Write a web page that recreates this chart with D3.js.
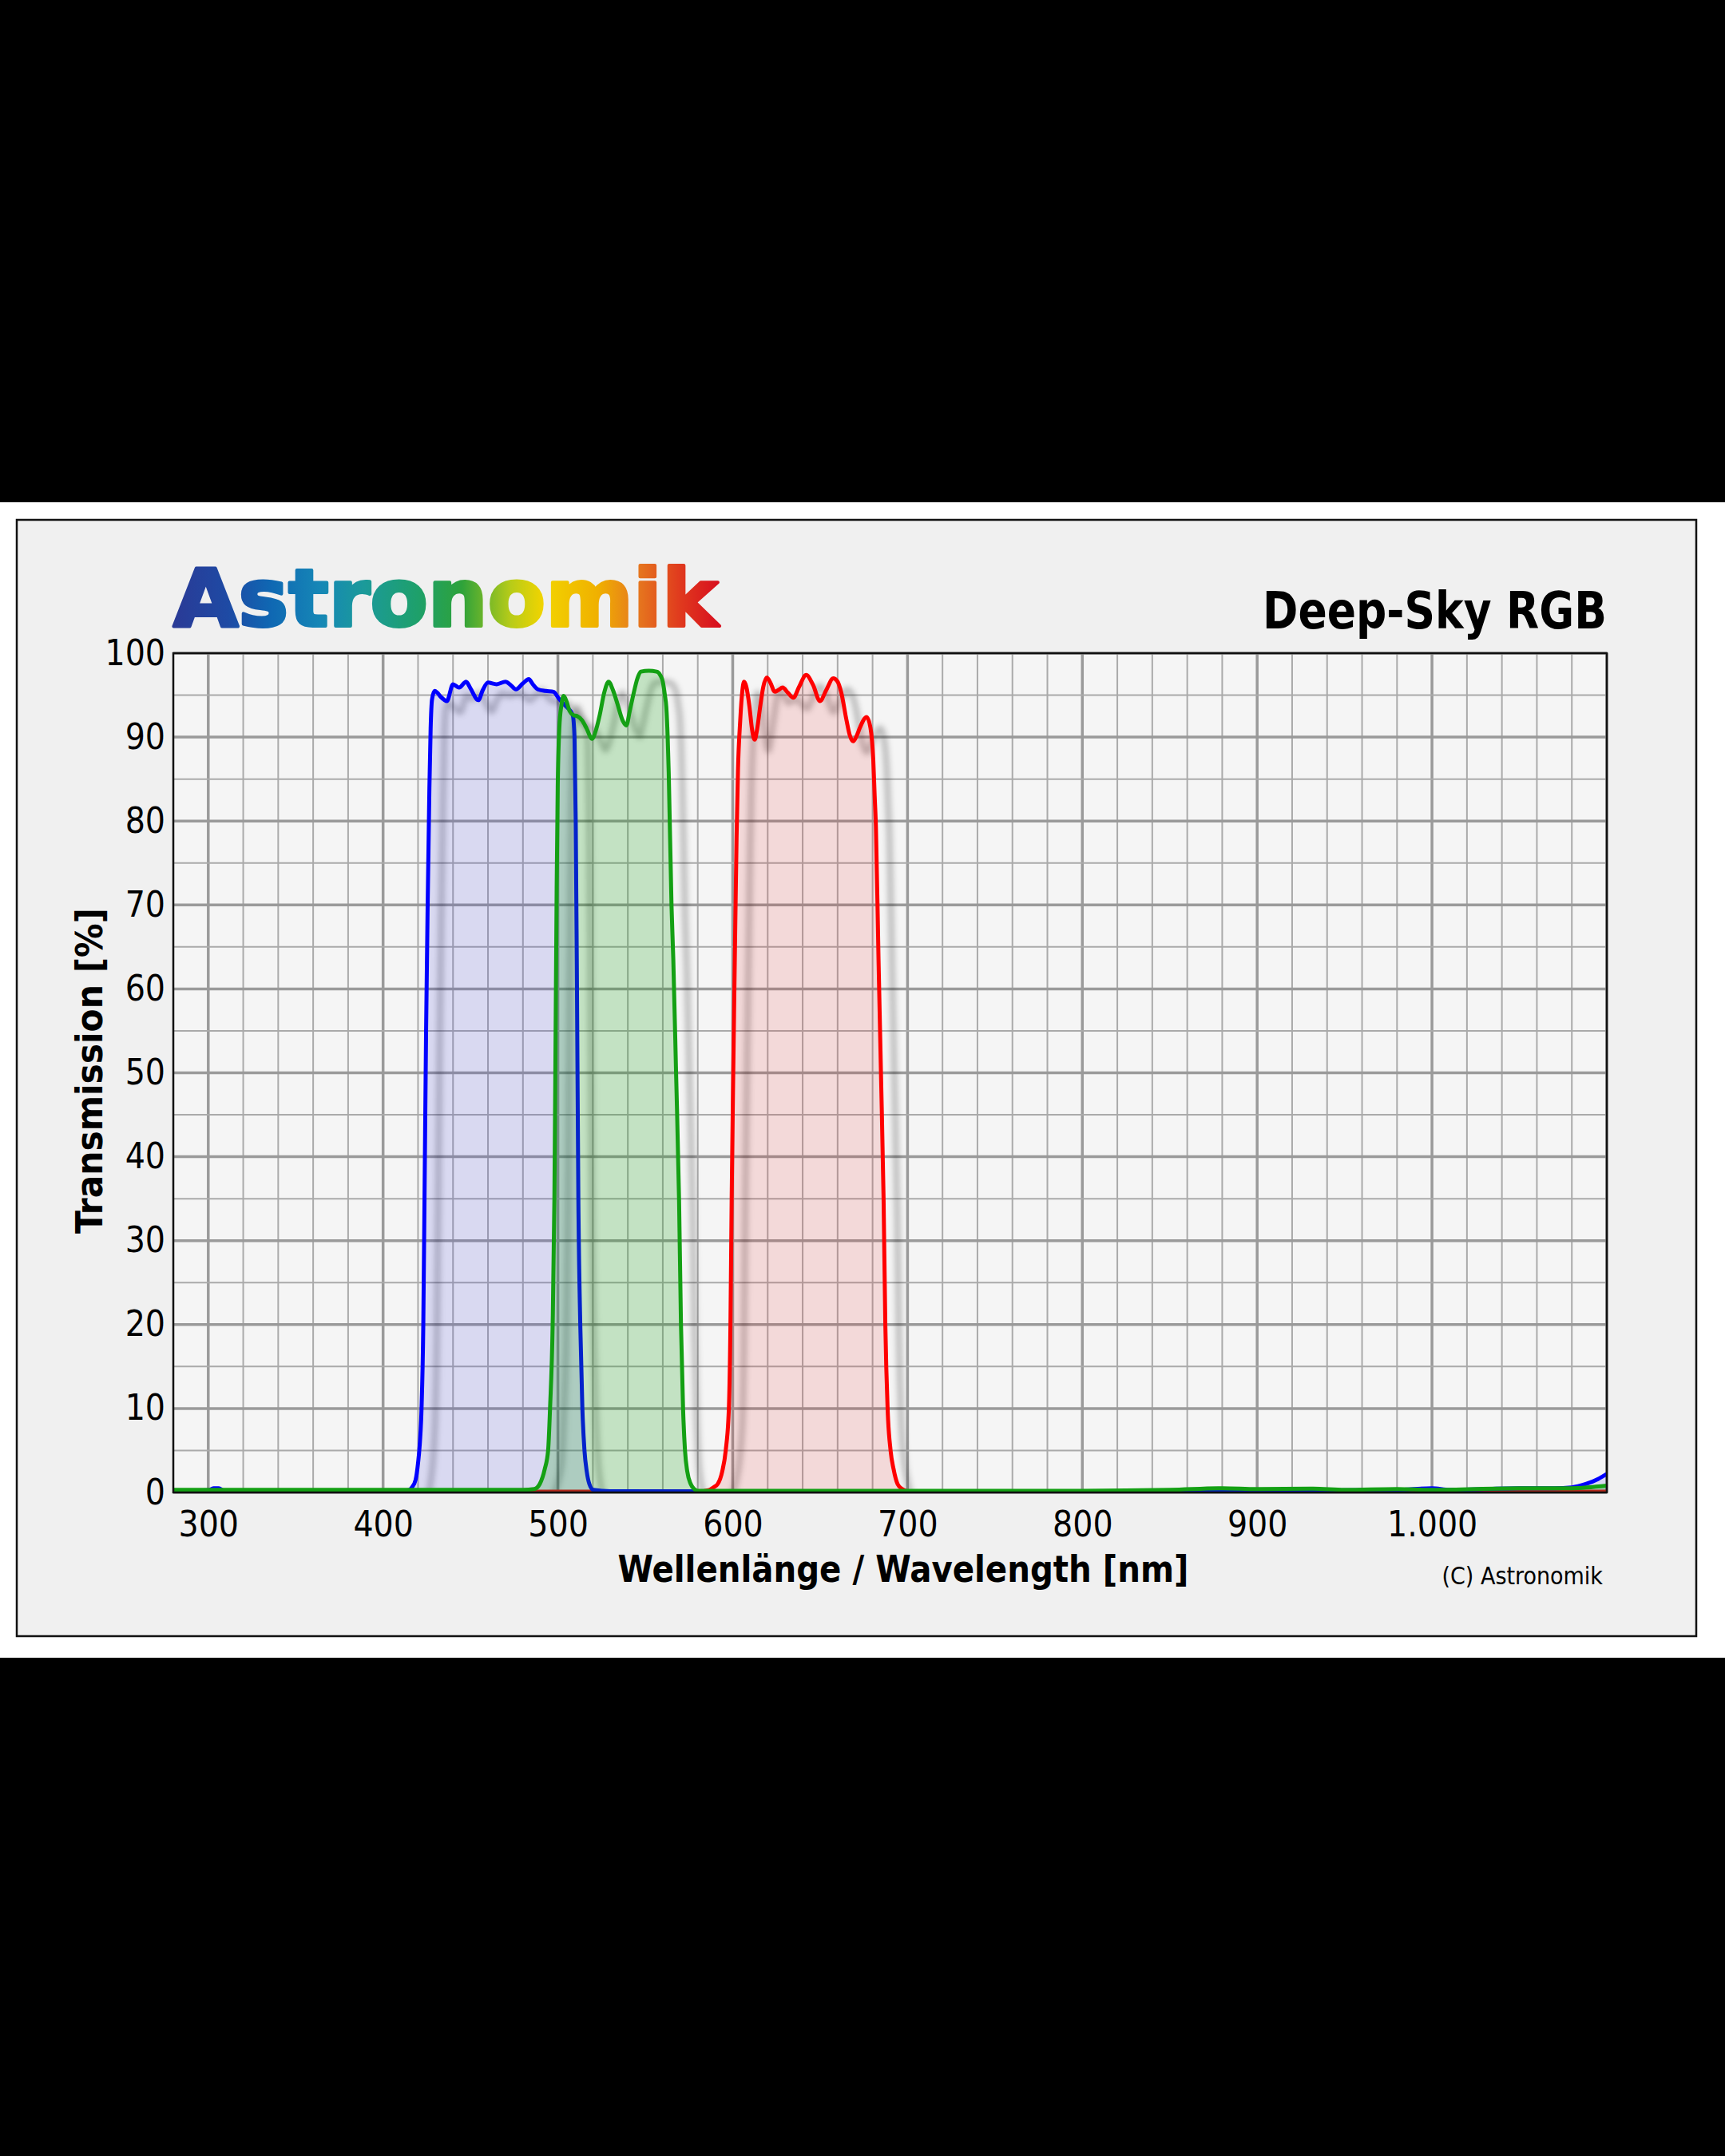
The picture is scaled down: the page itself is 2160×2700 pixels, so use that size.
<!DOCTYPE html>
<html>
<head>
<meta charset="utf-8">
<script src="https://cdn.jsdelivr.net/npm/d3@7"></script>
<style>
  body { margin: 0; background: #000; }
</style>
</head>
<body>
<svg id="chart" width="2160" height="2700"></svg>
<script>
// transmission curves, [wavelength nm, transmission %]
let blueData = [
  [280, 0.2], [300, 0.25], [303, 0.5], [306, 0.5], [309, 0.2], [350, 0.2], [400, 0.2], [412, 0.2],
  [415, 0.3], [416.5, 0.6], [418.6, 1.5], [420, 3.5], [420.9, 5.5], [422, 10], [423, 20], [423.7, 35],
  [424.6, 55], [425.5, 70], [426.5, 84], [427.2, 91], [428, 94.5], [429.5, 95.5], [431, 95.3], [433, 94.8],
  [436.5, 94.3], [440, 96.3], [443.5, 95.9], [447.5, 96.6], [450, 95.8], [454.5, 94.4], [457, 95.6],
  [460, 96.5], [465, 96.3], [470, 96.6], [473, 96.2], [476, 95.7], [480, 96.4], [483.3, 96.9],
  [486, 96.2], [488.5, 95.7], [493, 95.5], [497.5, 95.4], [500.5, 94.6], [503, 94], [505.5, 93.5],
  [508.5, 92.6], [509.5, 90], [510.2, 80], [510.8, 63.6], [511.7, 35], [512.8, 20], [514, 10],
  [515.2, 5], [516.5, 2.5], [518, 1], [520.3, 0.3], [530, 0.15], [700, 0.1], [800, 0.1],
  [900, 0.2], [980, 0.3], [1000, 0.5], [1010, 0.3], [1030, 0.4], [1050, 0.5], [1070, 0.5],
  [1080, 0.6], [1088, 1], [1095, 1.6], [1100, 2.2]
]

let greenData = [
  [280, 0.3], [400, 0.3], [480, 0.3], [486.5, 0.4], [489.6, 1], [492.5, 2.8], [494.4, 5], [495.5, 10],
  [497, 20], [498, 35], [498.7, 55], [499.3, 72], [499.9, 84], [500.8, 91], [502, 93.8],
  [503.3, 94.9], [505, 94.2], [506.7, 93.1], [509, 92.6], [511, 92.5], [513.8, 92], [516.5, 91],
  [519.5, 89.8], [522, 91], [524, 92.7], [526.5, 95.3], [529, 96.6], [531.5, 95.6], [534, 94],
  [537, 92], [539.2, 91.4], [541, 93], [543.3, 95.2], [545.5, 97], [547.4, 97.8], [552, 97.9],
  [556.5, 97.8], [558.5, 97.4], [560, 96.6], [561.2, 95], [562, 93.6], [562.8, 90], [563.4, 85.7],
  [565, 69.9], [566, 63.6], [567.6, 50], [569.3, 35], [570.4, 20], [571.6, 10], [572.7, 5],
  [574, 2.5], [576, 1], [578, 0.4], [580, 0.2], [700, 0.2], [800, 0.2], [850, 0.3],
  [880, 0.5], [900, 0.4], [932, 0.45], [950, 0.3], [980, 0.4], [1000, 0.3], [1050, 0.5], [1080, 0.5], [1100, 0.8]
]

let redData = [
  [280, 0.1], [500, 0.1], [580, 0.1], [586.6, 0.3], [589, 0.6], [591.4, 1], [594, 2.5], [596, 5],
  [597.8, 10], [598.7, 20], [599.4, 35], [600.3, 50], [601.2, 63.6], [602.2, 78], [603, 86], [604.3, 92],
  [605.5, 95.5], [606.5, 96.6], [607.8, 96], [609.6, 93.6], [611, 91], [612.6, 89.7], [614, 91],
  [615.7, 93.6], [617.5, 96], [619.5, 97.1], [621.5, 96.5], [624.1, 95.4], [626, 95.6], [628.6, 95.9],
  [631.5, 95.3], [634.7, 94.7], [638, 96], [642, 97.4], [646, 96.2], [649.9, 94.3], [653.5, 95.6],
  [657.5, 97], [660, 96.6], [662.1, 95.3], [665.1, 92], [667, 90.2], [668.9, 89.5], [671, 90.2],
  [672.7, 91.1], [676.6, 92.4], [678.8, 91.1], [680.4, 87.3], [681.2, 83], [681.9, 79.4], [683.4, 63.6],
  [684.8, 50], [686.3, 35], [687.3, 20], [688.6, 10], [690.3, 5], [692, 2.8], [694.3, 1], [697, 0.4],
  [700, 0.15], [710, 0.1], [1100, 0.1]
]

let xTicks = [300, 400, 500, 600, 700, 800, 900, 1000]
let yTicks = [0, 10, 20, 30, 40, 50, 60, 70, 80, 90, 100]
let titleText = "Deep-Sky RGB"
let logoText = "Astronomik"
let xLabel = "Wellenlänge / Wavelength [nm]"
let yLabel = "Transmission [%]"
let creditText = "(C) Astronomik"

let svg = d3.select("#chart")
let pLeft = 217, pRight = 2012, pTop = 818, pBottom = 1869
let fontReg = "'DejaVu Sans Condensed', 'DejaVu Sans', sans-serif"

// background, white band, framed panel
svg.append("rect").attr("width", 2160).attr("height", 2700).attr("fill", "#000")
svg.append("rect").attr("y", 629).attr("width", 2160).attr("height", 1447).attr("fill", "#fff")
svg.append("rect").attr("x", 21).attr("y", 651).attr("width", 2103).attr("height", 1398)
  .attr("fill", "#f0f0f0").attr("stroke", "#111").attr("stroke-width", 2.5)

let defs = svg.append("defs")
defs.append("clipPath").attr("id", "plotClip")
  .append("rect").attr("x", pLeft).attr("y", pTop).attr("width", pRight - pLeft).attr("height", pBottom - pTop)
defs.append("filter").attr("id", "blur").attr("x", "-10%").attr("y", "-10%").attr("width", "120%").attr("height", "120%")
  .append("feGaussianBlur").attr("stdDeviation", 3.5)

let grad = defs.append("linearGradient").attr("id", "logoGrad")
  .attr("gradientUnits", "userSpaceOnUse").attr("x1", 217).attr("x2", 899).attr("y1", 0).attr("y2", 0)
let gradStops = [
  [0, "#2a3a96"], [0.1, "#1e4aa4"], [0.18, "#0f68b3"], [0.27, "#1687b6"], [0.35, "#1b9a9a"],
  [0.45, "#1ea06a"], [0.53, "#2ea23a"], [0.62, "#b8cc18"], [0.68, "#f2d400"], [0.78, "#f0b000"],
  [0.85, "#e67a1e"], [0.93, "#e03a1e"], [1, "#d8101e"]
]
gradStops.forEach(s => grad.append("stop").attr("offset", s[0]).attr("stop-color", s[1]))

let xScale = d3.scaleLinear().domain([280, 1100]).range([pLeft, pRight])
let yScale = d3.scaleLinear().domain([0, 100]).range([pBottom, pTop])

// plot area and grid
svg.append("rect").attr("x", pLeft).attr("y", pTop).attr("width", pRight - pLeft).attr("height", pBottom - pTop)
  .attr("fill", "#f5f5f5")

let grid = svg.append("g")
d3.range(280, 1101, 20).forEach(v => {
  let major = v % 100 == 0
  grid.append("line").attr("x1", xScale(v)).attr("x2", xScale(v)).attr("y1", pTop).attr("y2", pBottom)
    .attr("stroke", major ? "#9a9a9a" : "#aaaaaa").attr("stroke-width", major ? 3.5 : 2)
})
d3.range(0, 101, 5).forEach(v => {
  let major = v % 10 == 0
  grid.append("line").attr("x1", pLeft).attr("x2", pRight).attr("y1", yScale(v)).attr("y2", yScale(v))
    .attr("stroke", major ? "#9a9a9a" : "#aaaaaa").attr("stroke-width", major ? 3.5 : 2)
})

let line = d3.line().x(d => xScale(d[0])).y(d => yScale(d[1])).curve(d3.curveMonotoneX)
let area = d3.area().x(d => xScale(d[0])).y0(yScale(0)).y1(d => yScale(d[1])).curve(d3.curveMonotoneX)

let series = [
  { data: redData, stroke: "#ff0000", fill: "rgba(230,30,30,0.13)" },
  { data: blueData, stroke: "#0000ff", fill: "rgba(60,60,220,0.15)" },
  { data: greenData, stroke: "#14a014", fill: "rgba(20,160,20,0.22)" }
]

let plot = svg.append("g").attr("clip-path", "url(#plotClip)")

// soft drop shadows
series.forEach(s => {
  plot.append("path").attr("d", line(s.data))
    .attr("transform", "translate(17,14)")
    .attr("fill", "none").attr("stroke", "rgba(0,0,0,0.25)").attr("stroke-width", 7)
    .attr("filter", "url(#blur)")
})

series.forEach(s => {
  plot.append("path").attr("d", area(s.data)).attr("fill", s.fill)
  plot.append("path").attr("d", line(s.data))
    .attr("fill", "none").attr("stroke", s.stroke).attr("stroke-width", 5)
    .attr("stroke-linejoin", "round")
})

svg.append("rect").attr("x", pLeft).attr("y", pTop).attr("width", pRight - pLeft).attr("height", pBottom - pTop)
  .attr("fill", "none").attr("stroke", "#111").attr("stroke-width", 2.5)

// axes
let de = d3.formatLocale({ decimal: ",", thousands: ".", grouping: [3], currency: ["", " €"] })
let xAxis = d3.axisBottom(xScale).tickValues(xTicks).tickFormat(de.format(",")).tickSize(0).tickPadding(24)
let xAxisGroup = svg.append("g").attr("transform", `translate(0,${pBottom})`).call(xAxis)
let yAxis = d3.axisLeft(yScale).tickValues(yTicks).tickSize(0).tickPadding(10)
let yAxisGroup = svg.append("g").attr("transform", `translate(${pLeft},0)`).call(yAxis)

;[xAxisGroup, yAxisGroup].forEach(g => {
  g.select(".domain").remove()
  g.selectAll("text").attr("fill", "#000").style("font-family", fontReg).style("font-size", "44px")
})

// texts
svg.append("text").attr("x", 217).attr("y", 784).text(logoText)
  .attr("textLength", 682).attr("lengthAdjust", "spacingAndGlyphs")
  .style("font-family", "'DejaVu Sans', sans-serif").style("font-weight", "bold").style("font-size", "100px")
  .attr("fill", "url(#logoGrad)").attr("stroke", "url(#logoGrad)").attr("stroke-width", 4)
  .attr("stroke-linejoin", "round")

svg.append("text").attr("x", pRight).attr("y", 787).attr("text-anchor", "end").text(titleText)
  .attr("textLength", 431).attr("lengthAdjust", "spacingAndGlyphs")
  .style("font-family", fontReg).style("font-weight", "bold").style("font-size", "64px")

svg.append("text").attr("x", 1131).attr("y", 1981).attr("text-anchor", "middle").text(xLabel)
  .attr("textLength", 715).attr("lengthAdjust", "spacingAndGlyphs")
  .style("font-family", fontReg).style("font-weight", "bold").style("font-size", "46px")

svg.append("text").attr("transform", "translate(128,1341) rotate(-90)").attr("text-anchor", "middle").text(yLabel)
  .attr("textLength", 408).attr("lengthAdjust", "spacingAndGlyphs")
  .style("font-family", fontReg).style("font-weight", "bold").style("font-size", "46px")

svg.append("text").attr("x", 2007).attr("y", 1984).attr("text-anchor", "end").text(creditText)
  .style("font-family", fontReg).style("font-size", "30px")
</script>
</body>
</html>
